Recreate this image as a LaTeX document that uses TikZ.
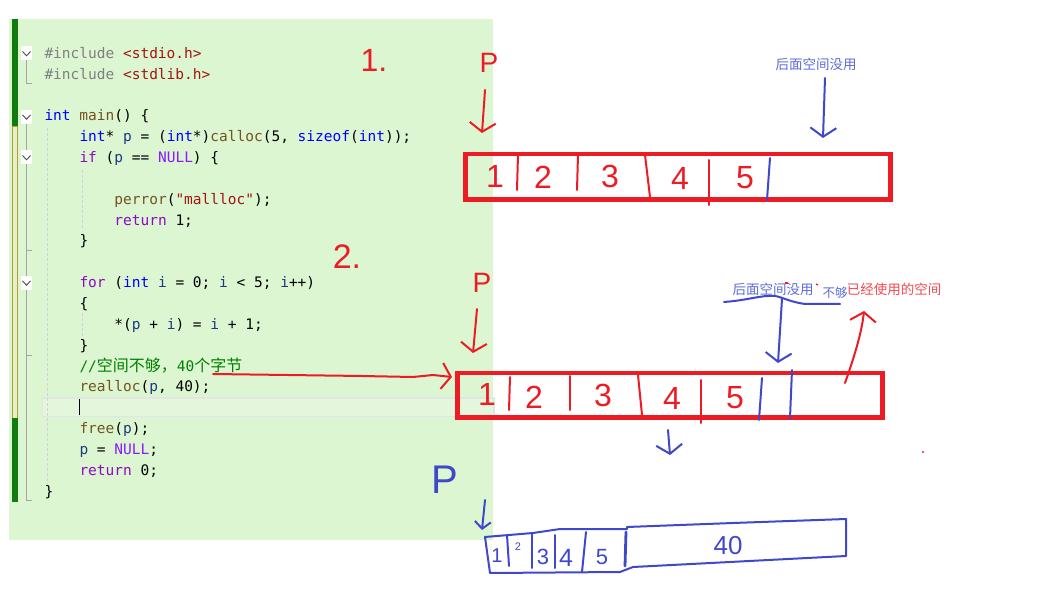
\documentclass[tikz,border=0pt]{standalone}
\usepackage{fontspec}
\setmonofont{DejaVu Sans Mono}
\newfontfamily\cjk{Noto Sans CJK SC}
\newfontfamily\hand{Liberation Sans}
\usetikzlibrary{arrows.meta}

\definecolor{bggreen}{HTML}{DBF6D1}
\definecolor{curline}{HTML}{E4F6DC}
\definecolor{curframe}{HTML}{E2E6E0}
\definecolor{barGreen}{HTML}{107C10}
\definecolor{barOlive}{HTML}{B0A030}
\definecolor{barPale}{HTML}{E8EFC8}
\definecolor{ppgray}{HTML}{808080}
\definecolor{strred}{HTML}{A31515}
\definecolor{kwblue}{HTML}{0000FF}
\definecolor{fnbrown}{HTML}{74531F}
\definecolor{varblue}{HTML}{1F377F}
\definecolor{ctrlpurple}{HTML}{8F08C4}
\definecolor{macpurple}{HTML}{8A1BFF}
\definecolor{cmtgreen}{HTML}{008000}
\definecolor{penred}{HTML}{ED1C24}
\definecolor{penblue}{HTML}{3F48CC}
\definecolor{noteblue}{HTML}{5C6BD8}
\definecolor{notered}{HTML}{F04A50}

% baseline of code line #1
\newcommand\codey[1]{58.3+20.85*(#1-1)}

\begin{document}
\begin{tikzpicture}[x=1pt, y=-1pt,
    code/.style={anchor=base west, inner sep=0pt, font=\ttfamily\fontsize{14.5}{17}\selectfont},
    pen/.style={line width=2pt, line cap=round, line join=round},
    redpen/.style={pen, draw=penred},
    bluepen/.style={pen, draw=penblue},
    hook/.style={-{Straight Barb[length=9pt, width=26pt]}},
    redbox/.style={draw=penred, line width=4.5pt, inner sep=0pt},
    digit/.style={inner sep=0pt, text=penred, font=\hand\fontsize{32}{32}\selectfont},
    bdigit/.style={inner sep=0pt, text=penblue, font=\hand\fontsize{#1}{#1}\selectfont},
    note/.style={inner sep=0pt, font=\cjk\fontsize{13.5}{14}\selectfont},
    foldline/.style={draw=gray!70, line width=1pt},
    guide/.style={draw=gray!35, line width=0.8pt, dash pattern=on 3pt off 2pt}]
  \useasboundingbox (0,0) rectangle (1055,612);

  % Editor background
  \fill[bggreen] (9,19) rectangle (493,540);
  % Change bar in the margin
  \fill[barGreen] (12,19) rectangle (18,127);
  \draw[barOlive, fill=barPale, line width=1pt] (12.5,127) rectangle (17.5,418);
  \fill[barGreen] (12,418) rectangle (18,502);
  % Current line
  \draw[curframe, fill=curline, line width=1.5pt] (42.5,398) rectangle (494,416.5);
  \draw[black, line width=1.3pt] (79.5,399) -- (79.5,415);

  % Folding lines and indent guides
  \draw[foldline] (26,60) -- (26,83.5) -- (32,83.5);
  \draw[foldline] (26,123) -- (26,500) -- (32,500);
  \draw[foldline] (26,251) -- (32,251);
  \draw[foldline] (26,355) -- (32,355);
  \draw[guide] (47.5,128) -- (47.5,488);
  \draw[guide] (82,170) -- (82,230);
  \draw[guide] (82,313) -- (82,337);
  \foreach \c in {53.3, 116.7, 157.3, 282.7} {
    \fill[white] (20.7,{\c-7}) rectangle (32,{\c+7});
    \draw[black!70, line width=0.9pt] (22.5,{\c-1.8}) -- (26.5,{\c+2.5}) -- (30.5,{\c-1.8});
  }

  % Code
  \node[code] (l1) at (44.3,{\codey{1}}) {\textcolor{ppgray}{\#include} \textcolor{strred}{<stdio.h>}};
  \node[code] (l2) at (44.3,{\codey{2}}) {\textcolor{ppgray}{\#include} \textcolor{strred}{<stdlib.h>}};
  \node[code] (l4) at (44.3,{\codey{4}}) {\textcolor{kwblue}{int} \textcolor{fnbrown}{main}() \{};
  \node[code] (l5) at (79.3,{\codey{5}}) {\textcolor{kwblue}{int}* \textcolor{varblue}{p} = (\textcolor{kwblue}{int}*)\textcolor{fnbrown}{calloc}(5, \textcolor{kwblue}{sizeof}(\textcolor{kwblue}{int}));};
  \node[code] (l6) at (79.3,{\codey{6}}) {\textcolor{ctrlpurple}{if} (\textcolor{varblue}{p} == \textcolor{macpurple}{NULL}) \{};
  \node[code] (l8) at (114.2,{\codey{8}}) {\textcolor{fnbrown}{perror}(\textcolor{strred}{"mallloc"});};
  \node[code] (l9) at (114.2,{\codey{9}}) {\textcolor{ctrlpurple}{return} 1;};
  \node[code] (l10) at (79.3,{\codey{10}}) {\}};
  \node[code] (l12) at (79.3,{\codey{12}}) {\textcolor{ctrlpurple}{for} (\textcolor{kwblue}{int} \textcolor{varblue}{i} = 0; \textcolor{varblue}{i} < 5; \textcolor{varblue}{i}++)};
  \node[code] (l13) at (79.3,{\codey{13}}) {\{};
  \node[code] (l14) at (114.2,{\codey{14}}) {*(\textcolor{varblue}{p} + \textcolor{varblue}{i}) = \textcolor{varblue}{i} + 1;};
  \node[code] (l15) at (79.3,{\codey{15}}) {\}};
  \node[code, text=cmtgreen] (l16) at (79.3,{\codey{16}}) {//{\cjk\fontsize{16}{17}\selectfont 空间不够，}40{\cjk\fontsize{16}{17}\selectfont 个字节}};
  \node[code] (l17) at (79.3,{\codey{17}}) {\textcolor{fnbrown}{realloc}(\textcolor{varblue}{p}, 40);};
  \node[code] (l19) at (79.3,{\codey{19}}) {\textcolor{fnbrown}{free}(\textcolor{varblue}{p});};
  \node[code] (l20) at (79.3,{\codey{20}}) {\textcolor{varblue}{p} = \textcolor{macpurple}{NULL};};
  \node[code] (l21) at (79.3,{\codey{21}}) {\textcolor{ctrlpurple}{return} 0;};
  \node[code] (l22) at (44.3,{\codey{22}}) {\}};

  % Step marks
  \node[digit, font=\hand\fontsize{32}{32}\selectfont] (step1) at (374,60) {1.};
  \node[digit, font=\hand\fontsize{34}{34}\selectfont] (step2) at (347,257) {2.};

  % 1. calloc: five ints
  \node[digit, font=\hand\fontsize{28}{28}\selectfont] (p1) at (489,63) {P};
  \coordinate (p1tip) at (482,133);
  \draw[redpen, hook] (485,90) -- (p1tip);
  \node[redbox, minimum width=425pt, minimum height=45.5pt] (box1) at (678,176.75) {};
  \foreach \x/\y/\d in {495/176/1, 543/177/2, 610/176/3, 680/178/4, 745/178/5}
    \node[digit] (a\d) at (\x,\y) {\d};
  \foreach \xa/\ya/\xb/\yb in {518/155/517/190, 578/155/577/190, 645/155/650/197, 709/160/709/205}
    \draw[redpen] (\xa,\ya) -- (\xb,\yb);
  \draw[bluepen] (770,158) -- (767,200);
  \node[note, text=noteblue] (free1) at (816,64) {后面空间没用};
  \coordinate (free1tip) at (823,138);
  \draw[bluepen, hook] (825,78) -- (free1tip);

  % 2. realloc to 40 bytes
  \node[digit, font=\hand\fontsize{28}{28}\selectfont] (p2) at (482,283) {P};
  \coordinate (p2tip) at (473,353);
  \draw[redpen, hook] (477,309) -- (p2tip);
  \coordinate (cmt) at (213,374);
  \coordinate (box2in) at (452,377);
  \draw[redpen, hook] (cmt) -- (362,376) -- (413,377) -- (433,375) -- (box2in);
  \node[redbox, minimum width=425pt, minimum height=44.5pt] (box2) at (670,395.25) {};
  \foreach \x/\y/\d in {487/394/1, 534/397/2, 603/395/3, 672/398/4, 735/398/5}
    \node[digit] (b\d) at (\x,\y) {\d};
  \foreach \xa/\ya/\xb/\yb in {510/377/509/410, 570/376/570/410, 638/375/642/415, 701/380/701/423}
    \draw[redpen] (\xa,\ya) -- (\xb,\yb);
  \draw[bluepen] (762,378) -- (759,420);
  \draw[bluepen] (792,370) -- (790,418);
  \node[note, text=noteblue] (free2) at (773,289) {后面空间没用};
  \node[note, text=noteblue, font=\cjk\fontsize{12.5}{13}\selectfont] (short) at (835,293) {不够};
  \node[note, text=notered] (used) at (894,289) {已经使用的空间};
  \draw[penred, line width=1.2pt] (785,283) -- (788,283);
  \draw[penred, line width=1.2pt] (816,284) -- (818,285);
  \coordinate (brace) at (782,299);
  \coordinate (bracetip) at (778,363);
  \draw[bluepen] (724,302) .. controls (750,300) and (760,295) .. (775,296)
    .. controls (782,297) and (790,302) .. (805,304) -- (840,304);
  \draw[bluepen, hook] (brace) -- (bracetip);
  \coordinate (usedfoot) at (845,383);
  \coordinate (usedtip) at (864,311);
  \draw[redpen, hook] (usedfoot) .. controls (856,352) and (862,330) .. (usedtip);
  \coordinate (down1) at (668,430);
  \coordinate (down1tip) at (670,455);
  \draw[bluepen, hook] (down1) -- (down1tip);
  \fill[penred] (923,452) circle (1.2);

  % Result: block of 40 bytes
  \node[bdigit=40] (p3) at (445,480) {P};
  \coordinate (p3top) at (485,500);
  \coordinate (p3tip) at (482,530);
  \draw[bluepen, -{Straight Barb[length=7pt, width=16pt]}] (p3top) -- (p3tip);
  \draw[bluepen] (485,537) -- (533,533) -- (560,529) -- (627,529) -- (627,527)
    -- (733,523) -- (846,519) -- (846,556) -- (633,567) -- (620,572)
    -- (490,573) -- cycle;
  \draw[bluepen, line width=2.8pt] (626,532) -- (625,566);
  \foreach \xa/\ya/\xb/\yb in {507/535/509/566, 532/533/532/568, 555/535/555/568, 586/532/582/572}
    \draw[bluepen] (\xa,\ya) -- (\xb,\yb);
  \node[bdigit=20] (c1) at (497,556) {1};
  \node[bdigit=11] (c2) at (518,547) {2};
  \node[bdigit=22] (c3) at (543,557) {3};
  \node[bdigit=25] (c4) at (566,558) {4};
  \node[bdigit=22] (c5) at (602,557) {5};
  \node[bdigit=26] (c40) at (728,546) {40};
\end{tikzpicture}
\end{document}
